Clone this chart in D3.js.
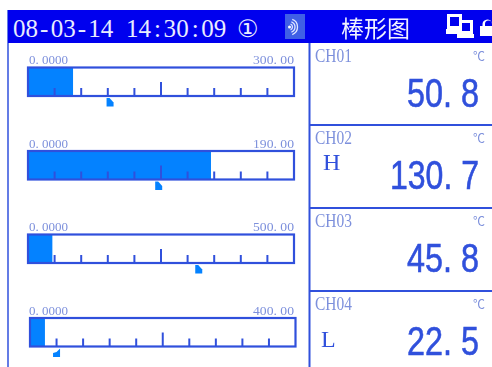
<!DOCTYPE html>
<html><head><meta charset="utf-8">
<script src="https://cdn.jsdelivr.net/npm/d3@7/dist/d3.min.js"></script>
<style>html,body{margin:0;padding:0;background:#fff;overflow:hidden}svg{display:block;filter:blur(.4px)}</style>
</head><body><svg id="c" width="492" height="367"></svg>
<script>
const channels = ["CH01","CH02","CH03","CH04"];
const values = [50.8,130.7,45.8,22.5];
const valueLabels = ["50. 8","130. 7","45. 8","22. 5"];
const rangeMinLabels = ["0. 0000","0. 0000","0. 0000","0. 0000"];
const rangeMaxLabels = ["300. 00","190. 00","500. 00","400. 00"];
const rangeMax = [300,190,500,400];
const markers = [92,93,320,40];
const flags = ["","H","","L"];
const tickFractions = [0.1,0.2,0.3,0.4,0.5,0.6,0.7,0.8,0.9];
const timeLabel = "08-03-14 14:30:09";
const title = "棒形图";

const svg = d3.select("#c");
const BLUE="#3050dc", FILL="#0482ff", LABEL="#7d90dc", HEAD="#0000ee";
const barTop=[67.5,151,234.5,318], barLeft=[28,28,28,30], barRight=[294,294,294,295.5], barH=28.5;
const cellTop=[43,125,208,291];
const serif="'Liberation Serif',serif", sans="'Liberation Sans',sans-serif", cjk="'Noto Sans CJK SC',sans-serif";

function fit(sel,x,y,w){
  const n=sel.node().getComputedTextLength();
  sel.attr("transform",`translate(${x},${y}) scale(${w/n},1)`);
  return sel;
}

svg.append("line").attr("x1",8).attr("x2",8).attr("y1",10).attr("y2",367).attr("stroke",BLUE).attr("stroke-width",1.5);
svg.append("line").attr("x1",309.5).attr("x2",309.5).attr("y1",43).attr("y2",367).attr("stroke",BLUE).attr("stroke-width",2);
svg.selectAll(".sep").data(cellTop.slice(1)).join("line").attr("x1",310).attr("x2",492)
  .attr("y1",d=>d).attr("y2",d=>d).attr("stroke",BLUE).attr("stroke-width",2);

svg.append("rect").attr("x",8).attr("y",10).attr("width",484).attr("height",33).attr("fill",HEAD);
const cell=12.55, cellX=Array.from(timeLabel,(ch,k)=>13+k*cell+(ch==="-"?2:ch===":"?3:0));
svg.append("text").attr("x",cellX.join(" ")).attr("y",37).attr("font-family",serif).attr("font-size",25).attr("fill","#e8ecff").attr("xml:space","preserve").text(timeLabel);
svg.append("text").attr("x",237).attr("y",37).attr("font-family","'DejaVu Sans',sans-serif").attr("font-size",24).attr("fill","#e8ecff").text("①");
svg.append("rect").attr("x",285).attr("y",14).attr("width",20).attr("height",25).attr("fill","#3f5fe6");
const sp=svg.append("g").attr("fill","none").attr("stroke","#dfe6ff").attr("stroke-width",1.3);
svg.append("circle").attr("cx",289.5).attr("cy",27).attr("r",1.5).attr("fill","#fff");
[3,5.5,8].forEach(r=>{
  sp.append("path").attr("d",d3.arc()({innerRadius:r,outerRadius:r,startAngle:0.35,endAngle:Math.PI-0.35})).attr("transform","translate(289.5,27)");
});
svg.append("text").attr("x",341).attr("y",37).attr("font-family",cjk).attr("font-size",23).attr("fill","#f0f2ff").text(title);
const ic=svg.append("g").attr("fill","#fff");
ic.append("path").attr("fill-rule","evenodd").attr("d","M447 14h15v15h-3v5h-13v-5h1zM450 17v9h9v-9z");
ic.append("path").attr("fill-rule","evenodd").attr("d","M459 20h14v14h1v4h-17v-4h2zM462 23v8h8v-8z");
ic.append("path").attr("fill-rule","evenodd").attr("d","M480 36v-10h2.5v-1a5 5 0 0 1 9.5 -2.5v13.5z M485 26h7v-2a3.5 3.5 0 0 0 -7 0z");

channels.forEach((ch,i)=>{
  const x=d3.scaleLinear().domain([0,rangeMax[i]]).range([barLeft[i],barRight[i]]);
  const g=svg.append("g");
  g.append("rect").attr("x",x(0)).attr("y",barTop[i]).attr("width",x(values[i])-x(0)).attr("height",barH).attr("fill",FILL);
  const bottom=barTop[i]+barH;
  g.selectAll(".t").data(tickFractions).join("line")
    .attr("x1",d=>x(d*rangeMax[i])).attr("x2",d=>x(d*rangeMax[i]))
    .attr("y1",bottom).attr("y2",d=>bottom-(d===0.5?14:8))
    .attr("stroke",BLUE).attr("stroke-width",2);
  g.append("rect").attr("x",x(0)).attr("y",barTop[i]).attr("width",x(rangeMax[i])-x(0)).attr("height",barH)
    .attr("fill","none").attr("stroke",BLUE).attr("stroke-width",2.2);
  const mx=x(markers[i]), my=bottom+2;
  g.append("path").attr("fill",FILL).attr("transform",`translate(${mx},${my})`)
    .attr("d",i===3?"M-3.5 8.5h7v-8.5l-3.5 3.5l-3.5 1z":"M-3 0l3 0l4 4.5v4h-7z");
  fit(g.append("text").attr("font-family",serif).attr("font-size",13).attr("fill",LABEL).text(rangeMinLabels[i]),29,barTop[i]-3.5,39);
  fit(g.append("text").attr("font-family",serif).attr("font-size",13).attr("fill",LABEL).text(rangeMaxLabels[i]),253,barTop[i]-3.5,41);

  const c=svg.append("g");
  const top=cellTop[i];
  fit(c.append("text").attr("font-family",serif).attr("font-size",19).attr("fill",LABEL).text(ch),315,top+19,37);
  c.append("text").attr("x",485).attr("y",top+18).attr("text-anchor","end").attr("font-family",cjk).attr("font-size",12).attr("fill",LABEL).text("℃");
  const w=valueLabels[i].length===6?89:72;
  fit(c.append("text").attr("font-family",sans).attr("font-size",40).attr("fill",BLUE)
    .attr("stroke",BLUE).attr("stroke-width",.6).text(valueLabels[i]),479-w,top+63.5,w);
  if(flags[i]) c.append("text").attr("x",flags[i]==="H"?323:321).attr("y",top+(i===1?45:56)).attr("font-family",serif).attr("font-size",24).attr("fill",BLUE).text(flags[i]);
});
</script></body></html>
